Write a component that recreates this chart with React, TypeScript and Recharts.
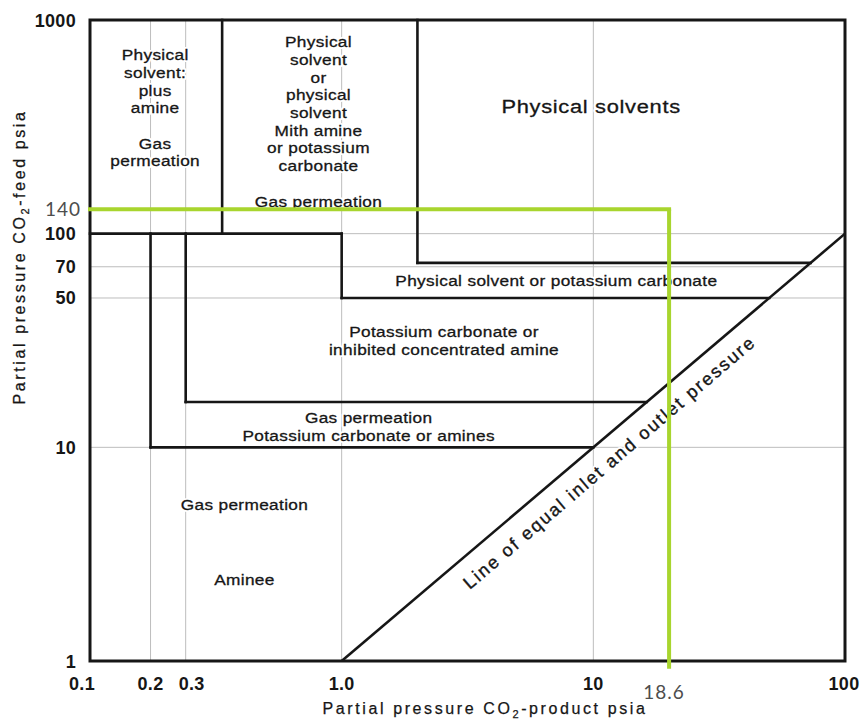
import React from "react";
import {
  ComposedChart,
  XAxis,
  YAxis,
  Line,
  Scatter,
  ReferenceLine,
  ReferenceArea,
  Label,
} from "recharts";

// tick positions (its grid below 1.0 is not a true log grid)
const xTickValues = [0.1, 0.174, 0.24, 1, 10, 20, 100];
const xTickLabels = ["0.1", "0.2", "0.3", "1.0", "10", "18.6", "100"];
const yTickValues = [1, 10, 50, 70, 100, 130, 1000];
const yTickLabels = ["1", "10", "50", "70", "100", "140", "1000"];

// thin grey grid lines
const gridX = [0.174, 0.24, 1, 10];
const gridY = [10, 50, 70, 100];

// borders between the process regions: [x1, y1, x2, y2]
const regionEdges = [
  [0.335, 1000, 0.335, 100],
  [0.1, 100, 1, 100],
  [2, 1000, 2, 73],
  [2, 73, 73, 73],
  [1, 100, 1, 50],
  [1, 50, 50, 50],
  [0.24, 100, 0.24, 16.3],
  [0.24, 16.3, 16.3, 16.3],
  [0.174, 100, 0.174, 10],
  [0.174, 10, 10, 10],
];

// inlet = outlet pressure
const equalPressure = [
  { x: 1, y: 1 },
  { x: 100, y: 100 },
];

// design case drawn in green
const designX = 20;
const designY = 130;

// region names, (x, y) = first line
const regionNotes = [
  { x: 0.1815, y: 686, lines: ["Physical", "solvent:", "plus", "amine", "", "Gas", "permeation"] },
  {
    x: 0.809,
    y: 789,
    lines: ["Physical", "solvent", "or", "physical", "solvent", "Mith amine", "or potassium", "carbonate", "", "Gas permeation"],
  },
  { x: 7.13, y: 60.1, lines: ["Physical solvent or potassium carbonate"] },
  { x: 2.55, y: 34.8, lines: ["Potassium carbonate or", "inhibited concentrated amine"] },
  { x: 1.28, y: 13.7, lines: ["Gas permeation", "Potassium carbonate or amines"] },
  { x: 0.411, y: 5.38, lines: ["Gas permeation"] },
  { x: 0.411, y: 2.4, lines: ["Aminee"] },
];
const headNote = [{ x: 9.8, y: 396, text: "Physical solvents" }];
const diagonalNote = [{ x: 11.6, y: 8.5, text: "Line of equal inlet and outlet pressure" }];

const FONT = '"Liberation Sans", Arial, Helvetica, sans-serif';
const MARK_FONT = 'Lato, "Open Sans", sans-serif';
const INK = "#161616";
const GRID = "#bdbdbd";
const LIME = "#a8d52e";
const STRETCH = 1.15; // the scanned figure is a little wider than tall

// white halo copy + inked copy, stretched sideways around cx
function Stretched(props: any) {
  const { cx, children, ...rest } = props;
  const tf = `translate(${cx} 0) scale(${STRETCH} 1) translate(${-cx} 0)`;
  return (
    <g transform={tf}>
      <text {...rest} fill="#fff" stroke="#fff" strokeWidth={4} strokeLinejoin="round">
        {children}
      </text>
      <text {...rest} fill={INK} stroke={INK} strokeWidth={0.3}>
        {children}
      </text>
    </g>
  );
}

function NoteShape(props: any) {
  const { cx, cy, payload } = props;
  return (
    <Stretched cx={cx} textAnchor="middle" fontFamily={FONT} fontSize={15} letterSpacing={0.3}>
      {payload.lines.map((s: string, i: number) => (
        <tspan key={i} x={cx} y={cy + i * 17.7 + 5.3}>
          {s}
        </tspan>
      ))}
    </Stretched>
  );
}

function HeadShape(props: any) {
  const { cx, cy, payload } = props;
  return (
    <Stretched cx={cx} x={cx} y={cy + 6.8} textAnchor="middle" fontFamily={FONT} fontSize={19} letterSpacing={0.6}>
      {payload.text}
    </Stretched>
  );
}

function DiagonalShape(props: any) {
  const { cx, cy, payload } = props;
  const common = {
    x: cx,
    y: cy + 6,
    textAnchor: "middle",
    transform: `rotate(-40.6 ${cx} ${cy})`,
    fontFamily: FONT,
    fontSize: 18,
    letterSpacing: 2,
  };
  return (
    <g>
      <text {...common} fill="#fff" stroke="#fff" strokeWidth={4} strokeLinejoin="round">
        {payload.text}
      </text>
      <text {...common} fill={INK} stroke={INK} strokeWidth={0.35}>
        {payload.text}
      </text>
    </g>
  );
}

function XTick(props: any) {
  const { x, y, payload, index } = props;
  const label = xTickLabels[xTickValues.indexOf(payload.value)];
  if (payload.value === designX) {
    return (
      <text x={x - 5} y={y + 23.5} textAnchor="middle" fontFamily={MARK_FONT} fontSize={19} letterSpacing={1} fill="#4d4d4d">
        {label}
      </text>
    );
  }
  const nudge = index === 0 ? -8 : index === 2 ? 6 : index === xTickValues.length - 1 ? -1 : 0;
  return (
    <text x={x + nudge} y={y + 14.5} textAnchor="middle" fontFamily={FONT} fontWeight="bold" fontSize={18} letterSpacing={0.3} fill={INK}>
      {label}
    </text>
  );
}

function YTick(props: any) {
  const { x, y, payload } = props;
  const label = yTickLabels[yTickValues.indexOf(payload.value)];
  if (payload.value === designY) {
    return (
      <text x={x + 5} y={y + 7} textAnchor="end" fontFamily={MARK_FONT} fontSize={19} letterSpacing={1} fill="#4d4d4d">
        {label}
      </text>
    );
  }
  return (
    <text x={x} y={y + 6.5} textAnchor="end" fontFamily={FONT} fontWeight="bold" fontSize={18} letterSpacing={0.3} fill={INK}>
      {label}
    </text>
  );
}

function XTitle(props: any) {
  const vb = props.viewBox;
  return (
    <text x={vb.x + 395} y={vb.y + 52.5} textAnchor="middle" fontFamily={FONT} fontSize={16} letterSpacing={2.6} fill={INK} stroke={INK} strokeWidth={0.25}>
      Partial pressure CO
      <tspan fontSize={11} dy={4}>
        2
      </tspan>
      <tspan dy={-4}>-product psia</tspan>
    </text>
  );
}

function YTitle(props: any) {
  const vb = props.viewBox;
  const cx = vb.x - 0.5;
  const cy = vb.y + 237;
  return (
    <text
      x={cx}
      y={cy + 5.5}
      transform={`rotate(-90 ${cx} ${cy})`}
      textAnchor="middle"
      fontFamily={FONT}
      fontSize={16}
      letterSpacing={2.6}
      fill={INK}
      stroke={INK}
      strokeWidth={0.25}
    >
      Partial pressure CO
      <tspan fontSize={11} dy={4}>
        2
      </tspan>
      <tspan dy={-4}>-feed psia</tspan>
    </text>
  );
}

export default function App() {
  return (
    <div style={{ width: 864, height: 725, background: "#fff" }}>
      <style>{"html,body{margin:0;padding:0;overflow:hidden;background:#fff}svg{display:block}"}</style>
      <ComposedChart width={864} height={725} margin={{ top: 20, right: 19, bottom: 24, left: 20 }}>
        <XAxis
          type="number"
          dataKey="x"
          scale="log"
          domain={[0.1, 100]}
          allowDataOverflow
          ticks={xTickValues}
          interval={0}
          tick={XTick}
          axisLine={false}
          tickLine={false}
          tickSize={8}
          tickMargin={6}
          height={40}
        >
          <Label content={XTitle} />
        </XAxis>
        <YAxis
          type="number"
          dataKey="y"
          scale="log"
          domain={[1, 1000]}
          allowDataOverflow
          ticks={yTickValues}
          interval={0}
          tick={YTick}
          axisLine={false}
          tickLine={false}
          tickSize={8}
          tickMargin={6}
          width={70}
        >
          <Label content={YTitle} />
        </YAxis>

        {gridX.map((v) => (
          <ReferenceLine key={"gx" + v} x={v} stroke={GRID} strokeWidth={1} zIndex={100} />
        ))}
        {gridY.map((v) => (
          <ReferenceLine key={"gy" + v} y={v} stroke={GRID} strokeWidth={1} zIndex={100} />
        ))}

        <Scatter data={regionNotes} dataKey="y" shape={NoteShape} isAnimationActive={false} zIndex={500} />
        <Scatter data={headNote} dataKey="y" shape={HeadShape} isAnimationActive={false} zIndex={500} />
        <Scatter data={diagonalNote} dataKey="y" shape={DiagonalShape} isAnimationActive={false} zIndex={500} />

        {regionEdges.map((e, i) => (
          <ReferenceLine
            key={"edge" + i}
            segment={[
              { x: e[0], y: e[1] },
              { x: e[2], y: e[3] },
            ]}
            stroke={INK}
            strokeWidth={2.6}
            strokeLinecap="square"
            ifOverflow="visible"
            zIndex={600}
          />
        ))}
        <Line
          data={equalPressure}
          dataKey="y"
          stroke={INK}
          strokeWidth={2.6}
          dot={false}
          activeDot={false}
          isAnimationActive={false}
          zIndex={650}
        />
        <ReferenceArea
          x1={0.1}
          x2={100}
          y1={1}
          y2={1000}
          fill="none"
          stroke={INK}
          strokeWidth={3}
          ifOverflow="visible"
          zIndex={650}
        />

        <ReferenceLine
          segment={[
            { x: 0.1, y: designY },
            { x: designX, y: designY },
          ]}
          stroke={LIME}
          strokeWidth={4}
          strokeLinecap="square"
          ifOverflow="visible"
          zIndex={700}
        />
        <ReferenceLine
          segment={[
            { x: designX, y: designY },
            { x: designX, y: 0.92 },
          ]}
          stroke={LIME}
          strokeWidth={4}
          ifOverflow="visible"
          zIndex={700}
        />
      </ComposedChart>
    </div>
  );
}
